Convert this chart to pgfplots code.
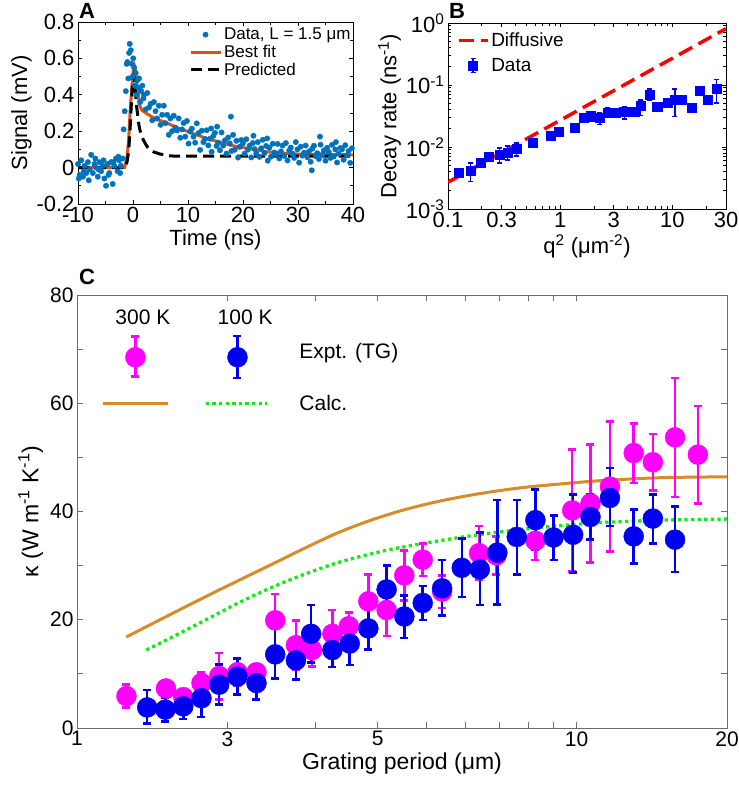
\documentclass[border=0pt]{standalone}
\usepackage{fontspec}
\setmainfont{Liberation Sans}
\usepackage{pgfplots}
\pgfplotsset{compat=1.18}
\definecolor{mblue}{RGB}{0,114,189}
\definecolor{morange}{RGB}{217,83,25}
\definecolor{corange}{RGB}{214,140,40}
\definecolor{cgreen}{RGB}{20,235,20}
\definecolor{cmag}{RGB}{255,0,255}
\definecolor{cblue}{RGB}{0,0,240}
\definecolor{frame}{RGB}{110,110,110}

\pgfplotsset{
  panel/.style={
    scale only axis, anchor=south west,
    tick align=inside,
    major tick length=4pt, minor tick length=3pt,
    every tick/.style={line width=0.7pt},
    axis line style={line width=0.9pt},
    /pgf/number format/assume math mode=true,
    tick label style={font=\fontsize{22}{24}\selectfont},
    label style={font=\fontsize{22}{24}\selectfont},
  }
}

\begin{document}
\begin{tikzpicture}[x=1pt,y=1pt]
\useasboundingbox (0,0) rectangle (739,793);

% ---------------- A ----------------
\begin{axis}[panel,
  at={(78pt,589pt)}, width=275pt, height=182pt,
  xmin=-10, xmax=40, ymin=-0.2, ymax=0.8,
  xtick={-10,0,10,20,30,40}, minor xtick={-5,5,15,25,35},
  ytick={-0.2,0,0.2,0.4,0.6,0.8}, yticklabels={-0.2,0,0.2,0.4,0.6,0.8},
  minor ytick={-0.1,0.1,0.3,0.5,0.7},
  xlabel={Time (ns)}, ylabel={Signal (mV)},
  ylabel style={yshift=-2pt},
  legend style={at={(1.01,0.99)}, anchor=north east, draw=none, fill=none,
    font=\fontsize{17}{17}\selectfont, row sep=0pt, legend cell align=left},
  legend image code/.code={\draw[mark repeat=2,mark phase=2,#1] plot coordinates {(0pt,0pt) (15pt,0pt) (30pt,0pt)};},
]
\addplot[only marks, mark=*, mark size=2.7pt, color=mblue] coordinates {
(-10,0.02) (-9.85,-0.06) (-9.7,-0.04) (-9.4,0.04) (-9.1,-0.05) (-8.95,-0.02) (-8.8,0.01)
(-8.5,-0.03) (-8.2,0.03) (-8.05,-0.07) (-7.9,-0.01) (-7.6,0.07) (-7.3,-0.03) (-7.0,0.02)
(-6.85,0.05) (-6.7,0.00) (-6.4,-0.05) (-6.25,-0.01) (-6.1,0.03) (-5.8,-0.02) (-5.5,0.01)
(-5.35,0.04) (-5.2,-0.06) (-4.9,-0.1) (-4.6,0.02) (-4.45,-0.04) (-4.3,-0.03) (-4.0,0.03)
(-3.7,-0.09) (-3.55,0.03) (-3.4,0.01) (-3.1,0.05) (-2.8,-0.02) (-2.65,0.06) (-2.5,0.04)
(-2.35,-0.03) (-2.2,0.01)
(-1.9,0.05) (-1.7,0.21) (-1.5,0.31) (-1.3,0.42) (-1.15,0.57) (-1.0,0.58) (-0.85,0.49)
(-0.7,0.63) (-0.6,0.68) (-0.4,0.645) (-0.25,0.57) (-0.1,0.5) (0.05,0.60) (0.2,0.55)
(0.35,0.45) (0.5,0.52) (0.65,0.40) (0.8,0.48) (0.95,0.44) (1.1,0.49) (1.3,0.36)
(1.5,0.42) (1.7,0.45) (1.9,0.38)
(2.0,0.40) (2.3,0.32) (2.6,0.41) (2.9,0.33) (3.2,0.35) (3.5,0.26) (3.8,0.36) (4.1,0.31)
(4.4,0.27) (4.7,0.34) (5.0,0.235) (5.3,0.29) (5.6,0.34) (5.9,0.244) (6.2,0.29) (6.5,0.18)
(6.8,0.27) (7.1,0.20) (7.4,0.285) (7.7,0.22)
(8.0,0.204) (8.3,0.27) (8.6,0.164) (8.9,0.21) (9.2,0.245) (9.5,0.17) (9.8,0.256) (10.1,0.132)
(10.4,0.198) (10.7,0.214) (11.0,0.17) (11.3,0.137) (11.6,0.243) (11.9,0.19) (12.2,0.097)
(12.5,0.203) (12.8,0.14) (13.1,0.157) (13.4,0.205) (13.7,0.122)
(14.0,0.159) (14.2,0.215) (14.3,0.087) (14.6,0.174) (14.9,0.191) (15.2,0.119) (15.3,0.225)
(15.5,0.137) (15.8,0.095) (16.1,0.193) (16.4,0.121) (16.7,0.149) (17.0,0.077) (17.3,0.165)
(17.6,0.133) (17.8,0.28) (17.9,0.091) (18.2,0.18) (18.5,0.098) (18.8,0.147) (19.1,0.055)
(19.4,0.114) (19.7,0.152)
(20.0,0.134) (20.3,0.077) (20.6,0.156) (20.9,0.099) (21.2,0.121) (21.5,0.056) (21.8,0.135)
(21.9,0.175) (22.1,0.102) (22.4,0.077) (22.7,0.14) (23.0,0.059) (23.3,0.106) (23.6,0.153)
(23.9,0.08) (24.2,0.119) (24.4,0.16) (24.5,0.038) (24.8,0.109) (25.1,0.06) (25.4,0.131)
(25.7,0.083)
(26.0,0.075) (26.3,0.13) (26.6,0.05) (26.9,0.089) (27.2,0.121) (27.5,0.064) (27.8,0.135)
(28.1,0.039) (28.4,0.094) (28.7,0.11) (29.0,0.077) (29.3,0.053) (29.6,0.14) (29.9,0.10)
(30.2,0.027) (30.5,0.115) (30.8,0.066) (31.1,0.082) (31.4,0.121) (31.7,0.057)
(32.0,0.089) (32.3,0.032) (32.5,-0.015) (32.6,0.104) (32.9,0.12) (33.2,0.063) (33.5,0.079)
(33.8,0.047) (34.0,0.17) (34.1,0.126) (34.4,0.07) (34.7,0.094) (35.0,0.038) (35.3,0.109)
(35.6,0.085) (35.9,0.053) (36.2,0.125) (36.5,0.061) (36.8,0.10) (36.9,0.14) (37.1,0.028)
(37.4,0.076) (37.7,0.108) (38.0,0.10) (38.3,0.043) (38.6,0.123) (38.9,0.067) (39.2,0.091)
(39.5,0.026) (39.8,0.106)
};
\addlegendentry{Data, L = 1.5 μm}
\addplot[color=morange, line width=3pt, smooth, tension=0.3] coordinates {
(-10,0) (-2,0) (-1.5,0.005) (-1.1,0.06) (-0.8,0.151) (-0.5,0.316) (-0.2,0.443) (0.05,0.53)
(0.28,0.557) (0.45,0.53) (0.7,0.462) (1.0,0.39) (1.25,0.34) (1.6,0.316) (2.2,0.303) (3,0.287)
(4,0.27) (5,0.258) (6.1,0.246) (8,0.22) (10,0.198) (12.2,0.173) (14,0.155) (16,0.138)
(18.2,0.12) (20,0.11) (22,0.1) (24.3,0.087) (27,0.08) (30.3,0.074) (35,0.072) (40,0.07)
};
\addlegendentry{Best fit}
\addplot[color=black, line width=3pt, dash pattern=on 11pt off 6pt, smooth, tension=0.3] coordinates {
(-10,0) (-1.8,0) (-1.4,0.005) (-1.1,0.03) (-0.8,0.09) (-0.55,0.2) (-0.35,0.32) (-0.15,0.43)
(0,0.49) (0.1,0.507) (0.25,0.49) (0.4,0.43) (0.6,0.35) (0.85,0.29) (1.1,0.23) (1.4,0.19)
(1.9,0.151) (2.7,0.11) (3.7,0.087) (5,0.074) (6.1,0.069) (8.5,0.063) (40,0.063)
};
\addlegendentry{Predicted}
\end{axis}
\node[font=\fontsize{22}{24}\selectfont\bfseries] at (87,782) {A};

% ---------------- B ----------------
\begin{axis}[panel,
  at={(448pt,584pt)}, width=278pt, height=186pt,
  xmode=log, ymode=log,
  xmin=0.1, xmax=30, ymin=1e-3, ymax=1,
  xtick={0.1,0.3,1,3,10,30}, xticklabels={0.1,0.3,1,3,10,30},
  minor xtick={0.2,0.4,0.5,0.6,0.7,0.8,0.9,2,4,5,6,7,8,9,20},
  ytick={0.001,0.01,0.1,1},
  yticklabels={10\textsuperscript{-3},10\textsuperscript{-2},10\textsuperscript{-1},10\textsuperscript{0}},
  minor ytick={0.002,0.003,0.004,0.005,0.006,0.007,0.008,0.009,0.02,0.03,0.04,0.05,0.06,0.07,0.08,0.09,0.2,0.3,0.4,0.5,0.6,0.7,0.8,0.9},
  xlabel={q\textsuperscript{2} (μm\textsuperscript{-2})}, ylabel={Decay rate (ns\textsuperscript{-1})},
  ylabel style={yshift=-2pt},
  legend style={at={(0.02,0.97)}, anchor=north west, draw=none, fill=none,
    font=\fontsize{19}{21}\selectfont, row sep=6pt, legend cell align=left},
]
\addplot[color=red, line width=3.5pt, dash pattern=on 15pt off 7pt,
  legend image code/.code={\draw[red, line width=3.5pt, dash pattern=on 15pt off 7pt] (0pt,0pt) -- (29pt,0pt);}] coordinates {
(0.1,0.0027) (30,0.81)
};
\addlegendentry{Diffusive}
\addplot[color=blue, only marks, mark=square*, mark size=4.6pt,
  legend image code/.code={\draw[blue, line width=1.5pt] (14.5pt,-7pt) -- (14.5pt,7pt) (12pt,7pt) -- (17pt,7pt) (12pt,-7pt) -- (17pt,-7pt); \fill[blue] (10pt,-4.5pt) rectangle (19pt,4.5pt);},
  error bars/.cd, y dir=both, y explicit,
  error bar style={line width=1.5pt},
  error mark options={rotate=90, mark size=2.5pt, line width=1.5pt}]
  table[x=x, y=y, y error plus=ep, y error minus=em] {
x      y       ep      em
0.1253 0.00381 0.0005  0.0004
0.1593 0.0042  0.0013  0.0014
0.1943 0.00566 0.0003  0.0003
0.2306 0.00706 0.0003  0.0003
0.289  0.0075  0.0021  0.0020
0.338  0.0082  0.0021  0.0020
0.407  0.0094  0.0022  0.0023
0.573  0.0119  0.0005  0.0005
0.818  0.0152  0.0006  0.0006
0.971  0.0179  0.0008  0.0008
1.349  0.0202  0.0008  0.0008
1.622  0.0294  0.0012  0.0012
1.862  0.0313  0.0012  0.0012
2.25   0.0294  0.0060  0.0064
2.64   0.0362  0.0062  0.0049
3.13   0.0353  0.0014  0.0014
3.72   0.0372  0.0081  0.0089
4.56   0.0376  0.0015  0.0015
5.2    0.0464  0.0114  0.0143
6.3    0.0698  0.0163  0.0120
7.32   0.0442  0.0018  0.0018
9.05   0.0513  0.0096  0.0071
10.5   0.058   0.0281  0.0267
12.05  0.058   0.0023  0.0023
14.8   0.0426  0.0017  0.0017
17.6   0.081   0.0032  0.0032
20.6   0.058   0.0023  0.0023
24.8   0.0862  0.0358  0.0349
};
\addlegendentry{Data}
\end{axis}
\node[font=\fontsize{22}{24}\selectfont\bfseries] at (457,782) {B};

% ---------------- C ----------------
\begin{axis}[panel,
  at={(77pt,65pt)}, width=650pt, height=433pt,
  xmode=log, xmin=1, xmax=20, ymin=0, ymax=80,
  axis line style={color=frame, line width=1pt},
  every tick/.style={color=frame, line width=0.8pt},
  major tick length=6pt, minor tick length=6pt,
  xtick={1,2,4,10,20}, xticklabels={1,3,5,10,20},
  minor xtick={3,5,6,7,8,9},
  ytick={0,20,40,60,80}, minor ytick={10,30,50,70},
  tick label style={font=\fontsize{21}{24}\selectfont},
  label style={font=\fontsize{23}{26}\selectfont},
  xlabel={Grating period (μm)},
  ylabel={κ (W m\textsuperscript{-1} K\textsuperscript{-1})},
  error bars/error bar style={line width=2.5pt},
  error bars/error mark options={rotate=90, mark size=4pt, line width=2.5pt},
]
\addplot[color=corange, line width=3pt, smooth] coordinates {
(1.255,16.8) (1.349,18.3) (1.821,24.4) (2.456,30.25) (2.853,33.2) (3.314,36.0) (3.85,38.3)
(4.472,40.2) (5.19,41.7) (6.034,42.9) (7.0,43.85) (8.141,44.6) (10.99,45.65) (14.82,46.25) (20,46.4)
};
\addplot[color=cgreen, line width=3.3pt, dash pattern=on 3.3pt off 3.3pt, smooth] coordinates {
(1.376,14.4) (1.567,17.0) (1.821,20.1) (2.115,23.2) (2.456,26.0) (2.853,28.4) (3.314,30.5)
(3.85,32.1) (4.472,33.4) (6.034,35.4) (8.141,36.9) (10.99,37.9) (14.82,38.4) (20,38.6)
};
% legend lines
\addplot[color=corange, line width=3pt] coordinates {(1.127,60) (1.518,60)};
\addplot[color=cgreen, line width=3.3pt, dash pattern=on 3.3pt off 3.3pt] coordinates {(1.811,60) (2.405,60)};
% 300 K
\addplot[color=cmag, only marks, mark=*, mark size=10pt,
  error bars/.cd, y dir=both, y explicit]
  table[x=x, y=y, y error plus=ep, y error minus=em] {
x      y     ep    em
1.256  5.9   2.1   2.1
1.507  7.3   1.5   1.5
1.632  5.7   1.5   1.5
1.775  8.3   2.0   2.0
1.926  9.6   4.3   4.3
2.095  10.3  2.5   2.5
2.287  10.3  1.5   1.5
2.493  19.9  4.9   4.9
2.743  15.3  4.6   4.6
2.954  14.4  3.0   3.0
3.245  17.4  4.4   4.4
3.50   18.8  2.5   2.5
3.83   23.4  5.0   5.0
4.166  21.8  4.8   4.8
4.52   28.2  4.6   4.6
4.92   31.1  3.0   3.0
5.38   25.2  3.0   3.0
6.38   32.3  5.0   5.0
6.91   31.9  3.5   3.5
8.27   34.6  3.6   3.6
9.80   40.2  11.3  11.3
10.66  41.5  10.9  10.9
11.66  44.6  12.0  12.0
13.01  50.8  5.5   5.5
14.21  49.1  5.2   5.2
15.74  53.7  11.0  11.0
17.49  50.5  9.0   9.0
1.309  68.5  3.8   3.6
};
% 100 K
\addplot[color=cblue, only marks, mark=*, mark size=10pt,
  error bars/.cd, y dir=both, y explicit]
  table[x=x, y=y, y error plus=ep, y error minus=em] {
x      y     ep    em
1.382  3.8   3.2   3.0
1.503  3.4   2.1   2.2
1.632  4.0   2.3   2.3
1.775  5.5   3.8   3.5
1.926  8.0   3.7   3.7
2.095  9.5   3.3   3.3
2.287  8.3   3.0   3.0
2.493  13.6  4.8   4.5
2.743  12.5  2.8   3.5
2.942  17.4  5.3   5.3
3.245  14.4  2.7   3.1
3.515  15.6  4.0   4.0
3.83   18.4  3.8   3.9
4.166  25.6  4.4   4.3
4.52   20.6  3.9   4.0
4.92   23.1  3.1   3.1
5.38   25.8  5.2   5.0
5.89   29.6  5.4   5.4
6.40   29.3  6.8   6.6
6.94   32.4  9.7   9.6
7.59   35.3  6.8   6.9
8.27   38.4  5.7   5.5
8.99   35.2  4.1   4.2
9.84   35.7  7.4   7.0
10.66  39.0  4.1   4.2
11.66  42.5  5.5   5.2
13.01  35.4  5.0   5.0
14.21  38.7  4.4   4.6
15.74  34.8  6.1   6.0
2.095  68.5  3.9   3.8
};
\node[font=\fontsize{21}{24}\selectfont] at (axis cs:1.355,75.9) {300 K};
\node[font=\fontsize{21}{24}\selectfont] at (axis cs:2.17,75.9) {100 K};
\node[font=\fontsize{21}{24}\selectfont, anchor=west] at (axis cs:2.743,69.3) {Expt. (TG)};
\node[font=\fontsize{21}{24}\selectfont, anchor=west] at (axis cs:2.743,60) {Calc.};
\end{axis}
\node[font=\fontsize{22}{24}\selectfont\bfseries] at (87,516) {C};
\end{tikzpicture}
\end{document}
